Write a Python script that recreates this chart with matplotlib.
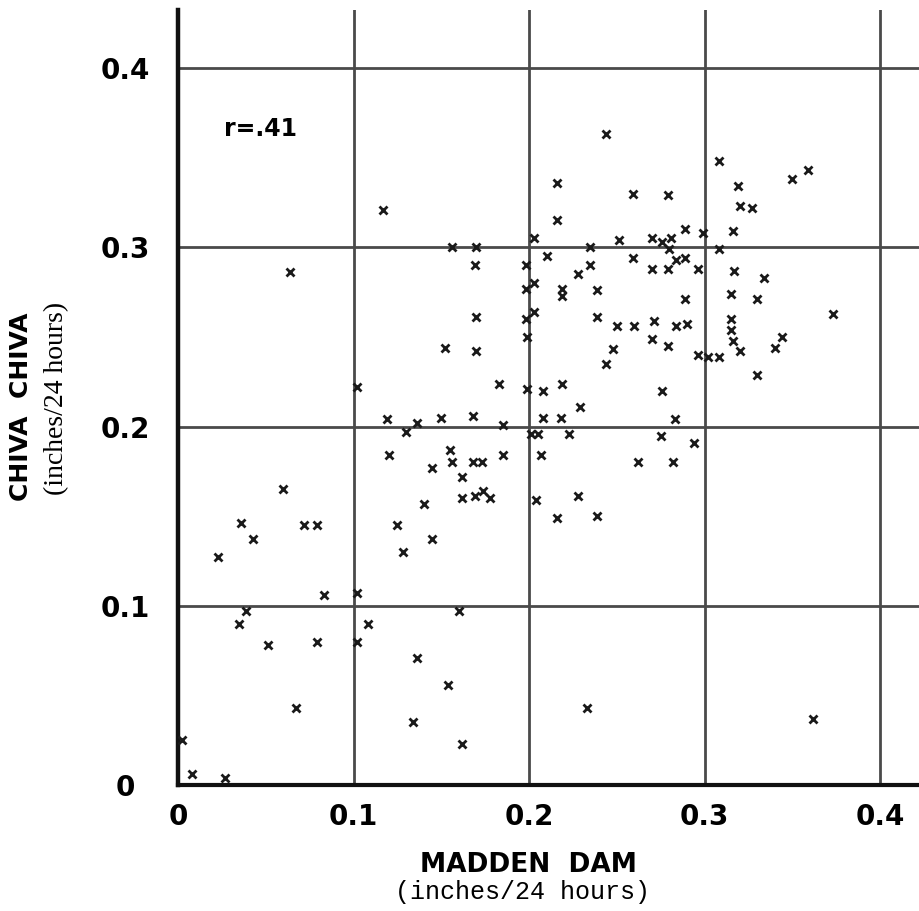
import matplotlib
matplotlib.use("Agg")
import matplotlib.pyplot as plt

# Daily rainfall pairs (inches/24 hours)
madden_dam = [
    0.117, 0.156, 0.170, 0.203, 0.064, 0.169, 0.198, 0.210, 0.198, 0.203,
    0.244, 0.216, 0.216, 0.308, 0.319, 0.350, 0.359, 0.320, 0.327, 0.235,
    0.251, 0.259, 0.279, 0.270, 0.276, 0.281, 0.289, 0.299, 0.308, 0.316,
    0.280, 0.259, 0.284, 0.289, 0.235, 0.228, 0.270, 0.279, 0.296, 0.317,
    0.334, 0.219, 0.239, 0.315, 0.289, 0.330, 0.219, 0.373, 0.203, 0.198,
    0.239, 0.250, 0.260, 0.271, 0.284, 0.290, 0.315, 0.315, 0.316, 0.270,
    0.279, 0.199, 0.248, 0.244, 0.296, 0.302, 0.308, 0.320, 0.344, 0.340,
    0.330, 0.199, 0.208, 0.219, 0.276, 0.229, 0.208, 0.218, 0.283, 0.185,
    0.205, 0.223, 0.275, 0.294, 0.185, 0.207, 0.262, 0.282, 0.204, 0.228,
    0.216, 0.239, 0.102, 0.170, 0.152, 0.170, 0.183, 0.119, 0.136, 0.150,
    0.168, 0.130, 0.120, 0.155, 0.145, 0.156, 0.168, 0.173, 0.162, 0.060,
    0.140, 0.162, 0.169, 0.174, 0.178, 0.036, 0.072, 0.079, 0.043, 0.125,
    0.145, 0.128, 0.023, 0.083, 0.102, 0.039, 0.035, 0.051, 0.079, 0.108,
    0.102, 0.160, 0.136, 0.154, 0.067, 0.134, 0.162, 0.002, 0.008, 0.027,
    0.233, 0.362, 0.201,
]
chiva_chiva = [
    0.321, 0.300, 0.300, 0.305, 0.286, 0.290, 0.290, 0.295, 0.277, 0.280,
    0.363, 0.336, 0.315, 0.348, 0.334, 0.338, 0.343, 0.323, 0.322, 0.300,
    0.304, 0.330, 0.329, 0.305, 0.303, 0.305, 0.310, 0.308, 0.299, 0.309,
    0.299, 0.294, 0.293, 0.294, 0.290, 0.285, 0.288, 0.288, 0.288, 0.287,
    0.283, 0.277, 0.276, 0.274, 0.271, 0.271, 0.273, 0.263, 0.264, 0.260,
    0.261, 0.256, 0.256, 0.259, 0.256, 0.257, 0.260, 0.254, 0.248, 0.249,
    0.245, 0.250, 0.243, 0.235, 0.240, 0.239, 0.239, 0.242, 0.250, 0.244,
    0.229, 0.221, 0.220, 0.224, 0.220, 0.211, 0.205, 0.205, 0.204, 0.201,
    0.196, 0.196, 0.195, 0.191, 0.184, 0.184, 0.180, 0.180, 0.159, 0.161,
    0.149, 0.150, 0.222, 0.261, 0.244, 0.242, 0.224, 0.204, 0.202, 0.205,
    0.206, 0.197, 0.184, 0.187, 0.177, 0.180, 0.180, 0.180, 0.172, 0.165,
    0.157, 0.160, 0.161, 0.164, 0.160, 0.146, 0.145, 0.145, 0.137, 0.145,
    0.137, 0.130, 0.127, 0.106, 0.107, 0.097, 0.090, 0.078, 0.080, 0.090,
    0.080, 0.097, 0.071, 0.056, 0.043, 0.035, 0.023, 0.025, 0.006, 0.004,
    0.043, 0.037, 0.196,
]

grid_ticks = [0.1, 0.2, 0.3, 0.4]
tick_values = [0, 0.1, 0.2, 0.3, 0.4]
tick_labels = ["0", "0.1", "0.2", "0.3", "0.4"]

fig = plt.figure(figsize=(9.19, 9.11), dpi=100)
ax = fig.add_axes([0.1937, 0.1383, 0.8063, 0.8507])
ax.set_xlim(0, 0.4222)
ax.set_ylim(0, 0.4324)

# grid of the original graph paper
for v in grid_ticks:
    ax.axvline(v, color="#4a4a4a", lw=2.0, zorder=1)
    ax.axhline(v, color="#4a4a4a", lw=2.0, zorder=1)

ax.plot(madden_dam, chiva_chiva, ls="none", marker="x", ms=6, mew=2.0,
        color="#1a1a1a", zorder=3)

ax.spines["top"].set_visible(False)
ax.spines["right"].set_visible(False)
ax.spines["left"].set_linewidth(3.2)
ax.spines["bottom"].set_linewidth(3.0)
ax.spines["left"].set_color("#111111")
ax.spines["bottom"].set_color("#111111")

ax.set_xticks(tick_values)
ax.set_xticklabels(tick_labels, fontsize=20, fontweight="bold")
ax.set_yticks(tick_values)
ax.set_yticklabels(tick_labels, fontsize=20, fontweight="bold", ha="center")
ax.tick_params(axis="x", length=0, pad=13)
ax.tick_params(axis="y", length=0, pad=38)

ax.text(0.026, 0.366, "r=.41", fontsize=17, fontweight="bold", va="center")

fig.text(0.575, 0.050, "MADDEN  DAM", fontsize=19, fontweight="bold",
         ha="center", va="center")
fig.text(0.569, 0.021, "(inches/24 hours)", fontsize=18,
         family="Liberation Mono", ha="center", va="center")

fig.text(0.023, 0.554, "CHIVA  CHIVA", fontsize=18, fontweight="bold",
         rotation=90, ha="center", va="center")
fig.text(0.062, 0.563, "(inches/24 hours)", fontsize=20,
         family="Liberation Serif", rotation=90, ha="center", va="center")

fig.savefig("out.png", dpi=100)
